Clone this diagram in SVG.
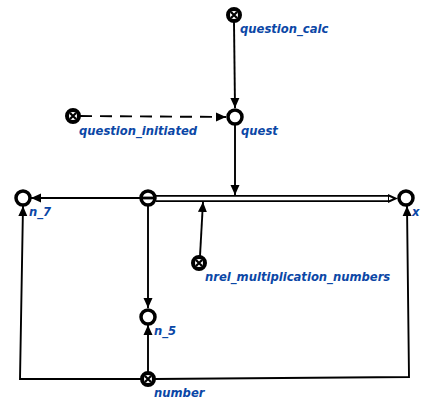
<svg xmlns="http://www.w3.org/2000/svg" width="430" height="411" viewBox="0 0 430 411">
<style>
.lbl{font-family:"DejaVu Sans",sans-serif;font-weight:bold;font-style:italic;font-size:11.6px;fill:#0b47a6}
.node{fill:#fff;stroke:#000;stroke-width:3.5}
.xn{fill:#fff;stroke:#000;stroke-width:4}
.cx{stroke:#000;stroke-width:2.2}
.edge{fill:none;stroke:#000;stroke-width:1.9}
</style>
<defs>
<marker id="ah" viewBox="0 0 10 10" refX="10" refY="5" markerWidth="10" markerHeight="10" markerUnits="userSpaceOnUse" orient="auto">
<path d="M0,0.5 L10,5 L0,9.5 Z" fill="#000"/>
</marker>
</defs>
<g id="connectors">
<line class="edge" x1="234" y1="22" x2="235" y2="108" marker-end="url(#ah)"/>
<line class="edge" x1="80" y1="116" x2="226" y2="117" stroke-dasharray="12,8" marker-end="url(#ah)"/>
<line class="edge" x1="141" y1="198" x2="31" y2="198" marker-end="url(#ah)"/>
<path d="M156,198.5 L390,198.5" fill="none" stroke="#000" stroke-width="7"/>
<path d="M156,198.5 L391,198.5" fill="none" stroke="#fff" stroke-width="3.4"/>
<path d="M388,194 L398,198.5 L388,203 Z" fill="#000"/>
<path d="M389,196.7 L393,198.5 L389,200.3 Z" fill="#fff"/>
<line class="edge" x1="235" y1="124" x2="235" y2="195" marker-end="url(#ah)"/>
<line class="edge" x1="200" y1="256" x2="203" y2="202" marker-end="url(#ah)"/>
<line class="edge" x1="148" y1="205" x2="148" y2="308" marker-end="url(#ah)"/>
<line class="edge" x1="148" y1="372" x2="148" y2="325" marker-end="url(#ah)"/>
<polyline class="edge" points="141,379 20,379 23,206" marker-end="url(#ah)"/>
<polyline class="edge" points="155,379 409,377 407,206" marker-end="url(#ah)"/>
</g>
<g id="question_calc">
<circle class="xn" cx="234" cy="15" r="6"/>
<path class="cx" d="M231,12 L237,18 M237,12 L231,18"/>
<text class="lbl" x="240" y="33">question_calc</text>
</g>
<g id="question_initiated">
<circle class="xn" cx="73" cy="116" r="6"/>
<path class="cx" d="M70,113 L76,119 M76,113 L70,119"/>
<text class="lbl" x="79" y="135">question_initiated</text>
</g>
<g id="quest">
<circle class="node" cx="235" cy="117" r="7"/>
<text class="lbl" x="241" y="135">quest</text>
</g>
<g id="central">
<circle class="node" cx="148" cy="198" r="7"/>
<line x1="141" y1="198" x2="155" y2="198" stroke="#000" stroke-width="2.8"/>
</g>
<g id="n_7">
<circle class="node" cx="23" cy="198" r="7"/>
<text class="lbl" x="29" y="216">n_7</text>
</g>
<g id="x">
<circle class="node" cx="406" cy="198" r="7"/>
<text class="lbl" x="412" y="216">x</text>
</g>
<g id="nrel_multiplication_numbers">
<circle class="xn" cx="199" cy="263" r="6"/>
<path class="cx" d="M196,260 L202,266 M202,260 L196,266"/>
<text class="lbl" x="205" y="281">nrel_multiplication_numbers</text>
</g>
<g id="n_5">
<circle class="node" cx="148" cy="317" r="7"/>
<text class="lbl" x="154" y="335">n_5</text>
</g>
<g id="number">
<circle class="xn" cx="148" cy="379" r="6"/>
<path class="cx" d="M145,376 L151,382 M151,376 L145,382"/>
<text class="lbl" x="154" y="397">number</text>
</g>
</svg>
